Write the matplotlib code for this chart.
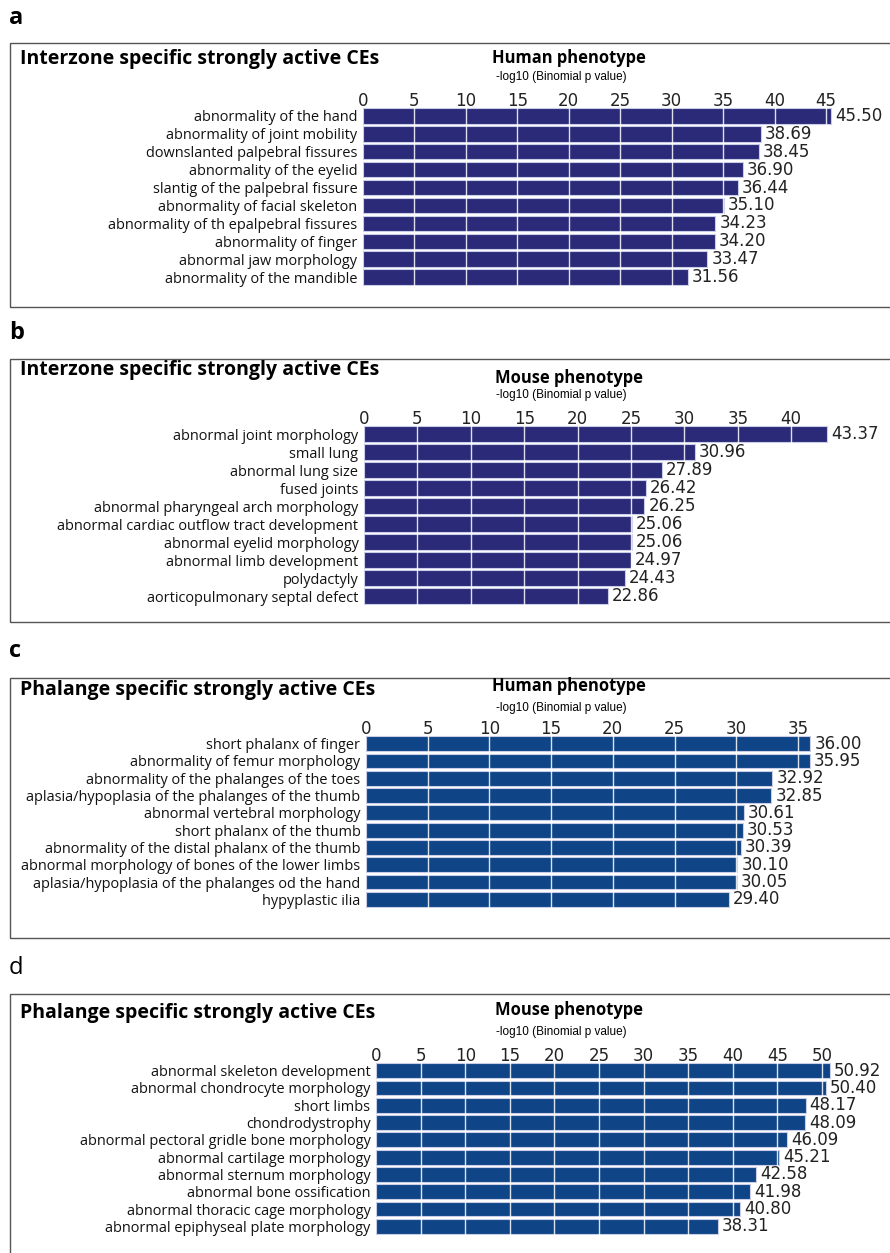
import matplotlib
matplotlib.use("Agg")
import matplotlib.pyplot as plt
from matplotlib.patches import Rectangle

W, H = 890, 1253

# ---- data ----
a_labels = ["abnormality of the hand", "abnormality of joint mobility",
            "downslanted palpebral fissures", "abnormality of the eyelid",
            "slantig of the palpebral fissure", "abnormality of facial skeleton",
            "abnormality of th epalpebral fissures", "abnormality of finger",
            "abnormal jaw morphology", "abnormality of the mandible"]
a_values = [45.50, 38.69, 38.45, 36.90, 36.44, 35.10, 34.23, 34.20, 33.47, 31.56]

b_labels = ["abnormal joint morphology", "small lung", "abnormal lung size",
            "fused joints", "abnormal pharyngeal arch morphology",
            "abnormal cardiac outflow tract development",
            "abnormal eyelid morphology", "abnormal limb development",
            "polydactyly", "aorticopulmonary septal defect"]
b_values = [43.37, 30.96, 27.89, 26.42, 26.25, 25.06, 25.06, 24.97, 24.43, 22.86]

c_labels = ["short phalanx of finger", "abnormality of femur morphology",
            "abnormality of the phalanges of the toes",
            "aplasia/hypoplasia of the phalanges of the thumb",
            "abnormal vertebral morphology", "short phalanx of the thumb",
            "abnormality of the distal phalanx of the thumb",
            "abnormal morphology of bones of the lower limbs",
            "aplasia/hypoplasia of the phalanges od the hand", "hypyplastic ilia"]
c_values = [36.00, 35.95, 32.92, 32.85, 30.61, 30.53, 30.39, 30.10, 30.05, 29.40]

d_labels = ["abnormal skeleton development", "abnormal chondrocyte morphology",
            "short limbs", "chondrodystrophy",
            "abnormal pectoral gridle bone morphology",
            "abnormal cartilage morphology", "abnormal sternum morphology",
            "abnormal bone ossification", "abnormal thoracic cage morphology",
            "abnormal epiphyseal plate morphology"]
d_values = [50.92, 50.40, 48.17, 48.09, 46.09, 45.21, 42.58, 41.98, 40.80, 38.31]

a_ticks = [0, 5, 10, 15, 20, 25, 30, 35, 40, 45]
b_ticks = [0, 5, 10, 15, 20, 25, 30, 35, 40]
c_ticks = [0, 5, 10, 15, 20, 25, 30, 35]
d_ticks = [0, 5, 10, 15, 20, 25, 30, 35, 40, 45, 50]

panel_letters = ["a", "b", "c", "d"]
panel_titles = ["Interzone specific strongly active CEs",
                "Interzone specific strongly active CEs",
                "Phalange specific strongly active CEs",
                "Phalange specific strongly active CEs"]
panel_subtitles = ["Human phenotype", "Mouse phenotype",
                   "Human phenotype", "Mouse phenotype"]
axis_label = "-log10 (Binomial p value)"

NAVY = "#2b2a78"
BLUE = "#0f4586"

# layout in pixels (y measured from top)
layout = [
    dict(letter_y=18, letter_bold=True, box=(43, 307), title_y=58, sub_x=569, sub_y=58,
         axis_y=77, ax=(363, 107, 286), scale=10.29, xmax=46, color=NAVY),
    dict(letter_y=333, letter_bold=True, box=(359, 622), title_y=369, sub_x=569, sub_y=378,
         axis_y=395, ax=(364, 425, 605), scale=10.68, xmax=44, color=NAVY),
    dict(letter_y=651, letter_bold=True, box=(678, 938), title_y=689, sub_x=569, sub_y=686,
         axis_y=708, ax=(366, 735, 908), scale=12.34, xmax=37, color=BLUE),
    dict(letter_y=968, letter_bold=False, box=(994, 1262), title_y=1012, sub_x=569, sub_y=1010,
         axis_y=1032, ax=(376, 1062, 1235), scale=8.92, xmax=52, color=BLUE),
]

datasets = [(a_labels, a_values, a_ticks), (b_labels, b_values, b_ticks),
            (c_labels, c_values, c_ticks), (d_labels, d_values, d_ticks)]

fig = plt.figure(figsize=(W / 100, H / 100), dpi=100)
fig.patch.set_facecolor("white")


def fx(x):
    return x / W


def fy(y):
    return 1 - y / H


for i, (lay, (labels, values, ticks)) in enumerate(zip(layout, datasets)):
    # panel frame
    top, bottom = lay["box"]
    fig.patches.append(Rectangle((fx(10), fy(bottom)), fx(900) - fx(10), fy(top) - fy(bottom),
                                 transform=fig.transFigure, fill=False,
                                 edgecolor="#555555", linewidth=1.0))
    fig.text(fx(9), fy(lay["letter_y"]), panel_letters[i], fontsize=17,
             fontweight="bold" if lay["letter_bold"] else "normal",
             family="Open Sans", ha="left", va="center")
    fig.text(fx(20), fy(lay["title_y"] + 1), panel_titles[i], fontsize=14,
             fontweight="bold", family="Open Sans", ha="left", va="center")
    fig.text(fx(lay["sub_x"]), fy(lay["sub_y"]), panel_subtitles[i], fontsize=11.9,
             fontweight="bold", family="Open Sans", ha="center", va="center")
    fig.text(fx(lay["sub_x"] - 8), fy(lay["axis_y"]), axis_label, fontsize=8.5,
             family="Liberation Sans", ha="center", va="center")

    x0, ytop, ybot = lay["ax"]
    width_px = lay["xmax"] * lay["scale"]
    ax = fig.add_axes([fx(x0), fy(ybot), width_px / W, (ybot - ytop) / H])
    pos = list(range(len(values)))
    ax.barh(pos, values, height=0.86, color=lay["color"], edgecolor="#c9cde8",
            linewidth=0.8, zorder=2)
    for t in ticks[1:]:
        ax.axvline(t, color="white", linewidth=1.0, alpha=0.85, zorder=3)
    for p, v in zip(pos, values):
        ax.text(v + 4.0 / lay["scale"], p, f"{v:.2f}", va="center", ha="left",
                fontsize=12, color="#222222", family="DejaVu Sans", zorder=4)
    ax.set_xlim(0, lay["xmax"])
    ax.set_ylim(len(values) - 0.5, -0.5)
    ax.set_xticks(ticks)
    ax.set_xticklabels([str(t) for t in ticks], fontsize=12, color="#222222",
                       family="DejaVu Sans")
    ax.xaxis.tick_top()
    ax.tick_params(axis="x", length=0, pad=-2.5)
    ax.set_yticks(pos)
    ax.set_yticklabels(labels, fontsize=10.45, color="#111111", family="Open Sans")
    ax.tick_params(axis="y", length=0, pad=4)
    for s in ax.spines.values():
        s.set_visible(False)
    ax.patch.set_alpha(0)

fig.savefig("out.png", dpi=100, facecolor="white")
